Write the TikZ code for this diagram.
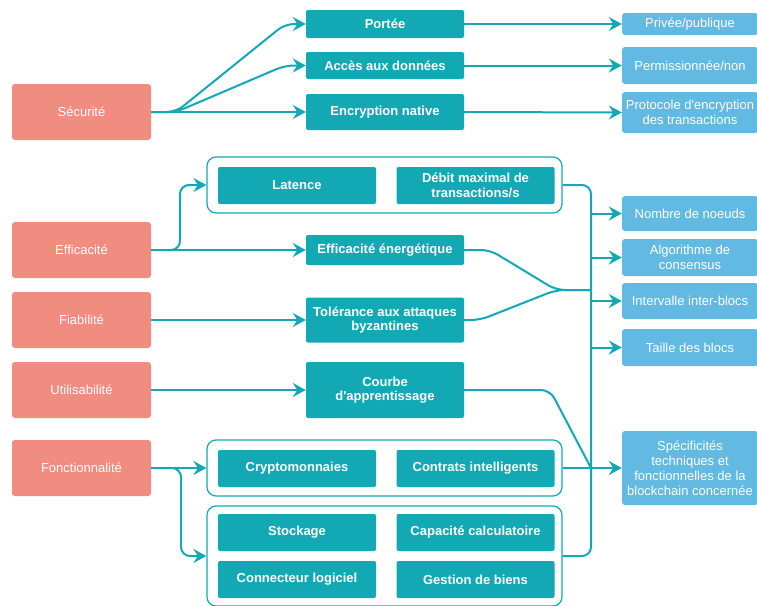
\documentclass[tikz,border=0pt]{standalone}
\usepackage{fontspec}
\setmainfont{Liberation Sans}
\usetikzlibrary{arrows.meta,shapes,positioning}

\definecolor{critpink}{HTML}{F08C80}
\definecolor{tealbox}{HTML}{12A9B5}
\definecolor{bluebox}{HTML}{62B9E1}

\begin{document}
\begin{tikzpicture}[x=1pt,y=-1pt]
  \tikzstyle{crit}=[rectangle,rounded corners=3pt,fill=critpink,text=white,inner sep=0pt,
    minimum width=139pt,minimum height=56pt,font=\fontsize{13}{15}\selectfont]
  \tikzstyle{sub}=[rectangle,rounded corners=2pt,fill=tealbox,text=white,inner sep=0pt,
    minimum width=158pt,align=center,font=\fontsize{13}{14.5}\selectfont\bfseries]
  \tikzstyle{res}=[rectangle,rounded corners=3pt,fill=bluebox,text=white,inner sep=0pt,
    minimum width=136pt,align=center,font=\fontsize{13}{15}\selectfont]
  \tikzstyle{grp}=[rectangle,rounded corners=9pt,draw=tealbox,line width=1.2pt,fill=white,
    inner sep=0pt,minimum width=355pt]
  \tikzstyle{link}=[draw=tealbox,line width=2pt,rounded corners=9pt]
  \tikzstyle{arr}=[link,-{Stealth[length=13pt,width=14pt,inset=4.5pt]}]

  \useasboundingbox (0,0) rectangle (757,605);

  % criteres
  \node[crit](secu) at (81.5,112){Sécurité};
  \node[crit](effi) at (81.5,250){Efficacité};
  \node[crit](fiab) at (81.5,320){Fiabilité};
  \node[crit](util) at (81.5,390){Utilisabilité};
  \node[crit](fonc) at (81.5,468){Fonctionnalité};

  % securite
  \node[sub,minimum height=28pt](portee) at (385,24){Portée};
  \node[sub,minimum height=27pt](acces) at (385,65.5){Accès aux données};
  \node[sub,minimum height=36pt](encr) at (385,112){Encryption native};
  \node[res,minimum height=22pt](priv) at (690,24){Privée/publique};
  \node[res,minimum height=37pt](perm) at (690,65.5){Permissionnée/non};
  \node[res,minimum height=41pt](proto) at (690,112.5){Protocole d\textquotesingle encryption\\des transactions};

  % groupes
  \node[grp,minimum height=56pt](grpa) at (384.5,185){};
  \node[grp,minimum height=56pt](grpb) at (384.5,468){};
  \node[grp,minimum height=100pt](grpc) at (384.5,556){};

  \node[sub,minimum height=37pt](late) at (297,185.5){Latence};
  \node[sub,minimum height=37pt](debit) at (475.5,185.5){Débit maximal de\\transactions/s};
  \node[sub,minimum height=30pt](ener) at (385,250){Efficacité énergétique};
  \node[sub,minimum height=45pt](tole) at (385,320){Tolérance aux attaques\\byzantines};
  \node[sub,minimum height=56pt](courbe) at (385,390){Courbe\\d\textquotesingle apprentissage};
  \node[sub,minimum height=37pt](crypto) at (297,468.5){Cryptomonnaies};
  \node[sub,minimum height=37pt](contrat) at (475.5,468.5){Contrats intelligents};
  \node[sub,minimum height=37pt](stock) at (297,532.5){Stockage};
  \node[sub,minimum height=37pt](calc) at (475.5,532.5){Capacité calculatoire};
  \node[sub,minimum height=37pt](conn) at (297,579.5){Connecteur logiciel};
  \node[sub,minimum height=37pt](biens) at (475.5,579.5){Gestion de biens};

  % parametres techniques
  \node[res,minimum height=35pt](noeuds) at (690,213.5){Nombre de noeuds};
  \node[res,minimum height=37pt](algo) at (690,257.5){Algorithme de\\consensus};
  \node[res,minimum height=36pt](inter) at (690,301){Intervalle inter-blocs};
  \node[res,minimum height=37pt](taille) at (690,347.5){Taille des blocs};
  \node[res,minimum height=74pt](spec) at (690,468){Spécificités\\techniques et\\fonctionnelles de la\\blockchain concernée};

  \coordinate (tn) at (592,213.5);
  \coordinate (ta) at (592,257.5);
  \coordinate (ti) at (592,301);
  \coordinate (tt) at (592,347.5);
  \coordinate (ts) at (591,468);
  \coordinate (jn) at (591,290);

  \path[arr]
    (secu.east) -- (176,112) -- (285,24) -- (portee.west);
  \path[arr]
    (secu.east) -- (176,112) -- (285,65.5) -- (acces.west);
  \path[arr] (secu.east) -- (encr.west);
  \path[arr] (portee.east) -- (priv.west);
  \path[arr] (acces.east) -- (perm.west);
  \path[arr] (encr.east) -- (proto.west);

  \path[arr] (effi.east) -- (180,250) -- (180,185) -- (grpa.west);
  \path[arr] (effi.east) -- (ener.west);
  \path[arr] (fiab.east) -- (tole.west);
  \path[arr] (util.east) -- (courbe.west);
  \path[arr] (fonc.east) -- (grpb.west);
  \path[arr] (fonc.east) -- (181,468) -- (181,556) -- (grpc.west);

  % tronc commun
  \path[link] (grpa.east) -- (591,185) -- (591,556) -- (grpc.east);
  \path[link] (ener.east) -- (490,250) -- (556,290) -- (jn);
  \path[link] (tole.east) -- (480,320) -- (556,290) -- (jn);
  \path[link] (courbe.east) -- (550,390) -- (ts);
  \path[link] (grpb.east) -- (ts);

  \path[arr] (tn) -- (noeuds.west);
  \path[arr] (ta) -- (algo.west);
  \path[arr] (ti) -- (inter.west);
  \path[arr] (tt) -- (taille.west);
  \path[arr] (ts) -- (spec.west);
\end{tikzpicture}
\end{document}
